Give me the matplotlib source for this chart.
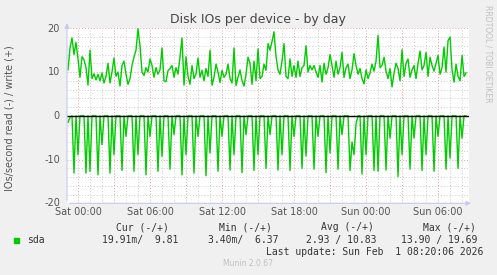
import numpy as np
import matplotlib
matplotlib.use('Agg')
import matplotlib.pyplot as plt
from matplotlib.ticker import MultipleLocator

# writes: 10 minute samples starting Fri 23:10
write_start_h = -50 / 60
write_step_h = 10 / 60
writes = [
    10.5, 15.5, 17.8, 14.0, 16.8, 13.0, 8.8, 13.5, 12.8, 11.0,
    7.0, 15.0, 8.5, 9.6, 8.2, 9.5, 8.0, 9.8, 7.5, 9.0,
    12.0, 7.5, 10.0, 13.2, 9.0, 10.0, 6.8, 11.5, 12.5, 9.5,
    7.2, 8.5, 11.5, 13.5, 15.0, 19.9, 16.0, 10.0, 9.2, 11.0,
    10.0, 13.0, 11.5, 8.8, 11.0, 9.5, 10.5, 15.5, 8.0, 7.8,
    10.3, 10.8, 11.5, 8.8, 11.0, 9.5, 13.5, 17.8, 7.0, 13.5,
    9.0, 7.2, 11.5, 8.5, 9.6, 13.2, 8.8, 10.4, 8.0, 10.8,
    9.0, 15.0, 7.0, 8.8, 11.8, 10.0, 7.6, 10.4, 8.8, 9.5,
    11.8, 8.5, 7.5, 15.5, 6.9, 8.8, 10.5, 8.0, 6.8, 9.5,
    13.4, 12.0, 7.2, 12.5, 8.0, 15.3, 8.5, 9.0, 11.8, 10.4,
    16.5, 15.0, 17.0, 19.2, 13.5, 10.5, 9.5, 12.5, 16.5, 9.0,
    8.5, 13.0, 9.0, 11.5, 8.8, 12.5, 9.0, 11.0, 11.5, 16.0,
    10.0, 11.5, 10.5, 11.5, 10.0, 8.8, 11.5, 7.7, 12.0, 9.5,
    11.0, 14.0, 11.5, 8.8, 12.5, 9.5, 11.0, 14.5, 8.8, 11.0,
    11.8, 8.5, 10.5, 14.2, 11.5, 9.5, 10.8, 8.5, 7.3, 10.5,
    8.5, 9.8, 11.8, 10.2, 12.5, 18.4, 11.0, 11.5, 13.4, 10.2,
    8.5, 10.8, 6.6, 9.8, 12.0, 10.8, 8.0, 15.1, 9.0, 12.0,
    13.0, 8.8, 10.5, 11.5, 8.5, 12.0, 14.8, 10.5, 11.5, 14.5,
    9.0, 13.4, 11.5, 10.2, 12.0, 13.8, 9.5, 11.0, 15.7, 10.0,
    17.2, 18.0, 10.5, 7.7, 11.8, 9.0, 8.0, 13.8, 9.0, 9.81,
]

# reads (drawn negative): 10 minute samples starting Fri 23:10, one row per hour
read_start_h = -50 / 60
read_step_h = 10 / 60
reads = [
    1.5, 0.3, 0, 13.1, 0, 8.9,
    0, 0, 0, 13.1, 0, 12.7,
    0, 0, 0, 13.5, 0, 6.6,
    0, 0, 0, 13.1, 0, 8.9,
    0, 0, 0, 12.5, 0, 4.7,
    0, 0, 0, 12.7, 0, 8.9,
    0, 0, 0, 13.5, 0, 4.7,
    0, 0, 0, 12.7, 0, 9.3,
    0, 0, 0, 12.2, 0, 4.3,
    0, 0, 0, 13.5, 0, 8.9,
    0, 0, 0, 13.1, 0, 4.7,
    0, 0, 0, 13.7, 0, 8.5,
    0, 0, 0, 12.7, 0, 4.7,
    0, 0, 0, 12.4, 0, 8.9,
    0, 0, 0, 13.0, 0, 4.3,
    0, 0, 0, 12.5, 0, 8.9,
    0, 0, 0, 12.0, 0, 4.3,
    0, 0, 0, 12.4, 0, 8.9,
    0, 0, 0, 12.5, 0, 4.7,
    0, 0, 0, 12.0, 0, 9.2,
    0, 0, 0, 12.2, 0, 4.7,
    0, 0, 0, 13.0, 0, 8.5,
    0, 0, 0, 12.2, 0, 4.3,
    0, 0, 0, 12.5, 6.0, 8.9,
    1.8, 0, 0, 13.3, 0, 8.9,
    0, 0, 0, 12.5, 0, 12.7,
    0, 0, 0, 12.4, 0, 5.1,
    0, 0, 0, 13.9, 0, 8.9,
    0, 0, 0, 12.2, 0, 5.1,
    0, 0, 0, 12.5, 0, 8.9,
    0, 0, 0, 12.7, 0, 4.7,
    0, 0, 0, 12.2, 0, 9.7,
    0, 0, 0, 12.0, 0, 5.1,
    0, 0,
]

tick_hours = [0, 6, 12, 18, 24, 30]
tick_labels = ['Sat 00:00', 'Sat 06:00', 'Sat 12:00', 'Sat 18:00', 'Sun 00:00', 'Sun 06:00']
y_ticks = [20, 10, 0, -10, -20]
legend_head = ['Cur (-/+)', 'Min (-/+)', 'Avg (-/+)', 'Max (-/+)']
legend_vals = ['19.91m/  9.81', '3.40m/  6.37', '2.93 / 10.83', '13.90 / 19.69']

W, H = 497, 275
green = '#00cc00'
bg = '#f0f0f0'
txt = '#555555'


def px(x, y):
    return x / W, 1 - y / H


fig = plt.figure(figsize=(W / 100, H / 100), dpi=100, facecolor=bg)
ax = fig.add_axes([67 / W, (H - 203.3) / H, 402 / W, 175 / H])
ax.set_facecolor('white')

tw = write_start_h + write_step_h * np.arange(len(writes))
tr = read_start_h + read_step_h * np.arange(len(reads))
ax.plot(tw, writes, color=green, lw=1.0, zorder=3)
ax.plot(tr, -np.array(reads), color=green, lw=1.0, zorder=3)
ax.axhline(0, color='black', lw=1.0, zorder=4)

ax.set_xlim(-11 / 12, 32.58)
ax.set_ylim(-20, 20)

ax.xaxis.set_major_locator(MultipleLocator(3))
ax.xaxis.set_minor_locator(MultipleLocator(1))
ax.yaxis.set_major_locator(MultipleLocator(10))
ax.yaxis.set_minor_locator(MultipleLocator(2))
ax.grid(which='minor', color='#cccccc', ls=(0, (1, 2)), lw=0.7)
ax.grid(which='major', color='#e0a0a0', ls=(0, (1, 2)), lw=0.7)
ax.set_axisbelow(True)
ax.tick_params(which='both', length=0, labelbottom=False, labelleft=False)

for s in ax.spines.values():
    s.set_visible(False)

axis_col = '#c8c8f0'
ax.annotate('', xy=(1.012, 0), xytext=(0, 0), xycoords='axes fraction',
            arrowprops=dict(arrowstyle='-|>', color=axis_col, lw=0.8,
                            mutation_scale=7), zorder=5, annotation_clip=False)
ax.annotate('', xy=(0, 1.045), xytext=(0, 0), xycoords='axes fraction',
            arrowprops=dict(arrowstyle='-|>', color=axis_col, lw=0.8,
                            mutation_scale=7), zorder=5, annotation_clip=False)

# tick labels
for h, lab in zip(tick_hours, tick_labels):
    ax.text(h, -20.9, lab, ha='center', va='top', fontsize=7, color=txt,
            clip_on=False)
for v in y_ticks:
    fig.text(*px(60, 116 - v * 4.375), str(v), ha='right', va='center',
             fontsize=7, color=txt)

fig.text(*px(258, 19), 'Disk IOs per device - by day', ha='center', va='center',
         fontsize=9, color='#444444')
fig.text(*px(10, 118), 'IOs/second read (-) / write (+)', ha='center', va='center',
         rotation=90, fontsize=7, color=txt)
fig.text(*px(488, 5), 'RRDTOOL / TOBI OETIKER', ha='center', va='top',
         rotation=270, fontsize=5.5, color='#c0c0c0')

mono = 'DejaVu Sans Mono'
head_x = [169, 272, 374, 476]
for x, t in zip(head_x, legend_head):
    fig.text(*px(x, 227.5), t, ha='right', va='center', fontsize=7,
             family=mono, color='#333333')
fig.patches.append(plt.Rectangle(px(14, 243), 5 / W, 5 / H,
                                 transform=fig.transFigure, color=green))
fig.text(*px(27, 240), 'sda', ha='left', va='center', fontsize=7,
         family=mono, color='#333333')
val_x = [178, 278, 377, 477]
for x, t in zip(val_x, legend_vals):
    fig.text(*px(x, 240), t, ha='right', va='center', fontsize=7,
             family=mono, color='#333333')
fig.text(*px(483, 252), 'Last update: Sun Feb  1 08:20:06 2026', ha='right',
         va='center', fontsize=7, family=mono, color='#333333')
fig.text(*px(248, 264), 'Munin 2.0.67', ha='center', va='center', fontsize=5.5,
         color='#c0c0c0')

fig.savefig('out.png', dpi=100, facecolor=bg)
